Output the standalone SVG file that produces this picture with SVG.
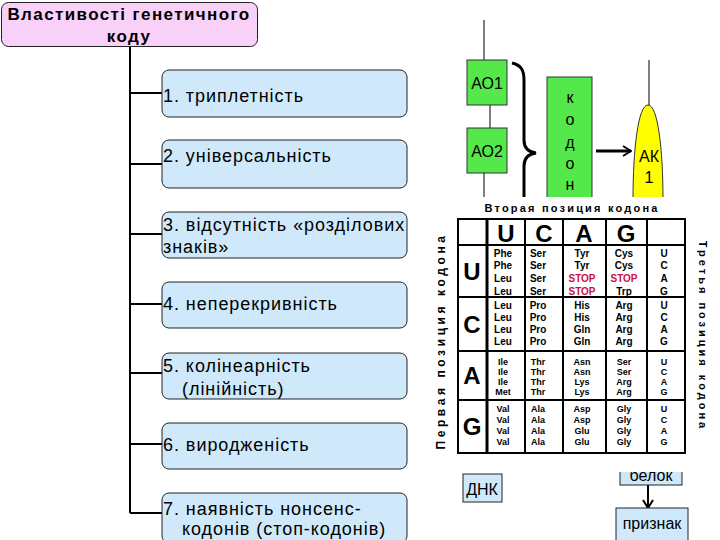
<svg xmlns="http://www.w3.org/2000/svg" width="720" height="540" viewBox="0 0 720 540">
<style>
.box{fill:#CFE9FB;stroke:#222;stroke-width:1}
.t{font-family:"Liberation Sans",Arial,sans-serif;font-size:18px;letter-spacing:0.95px;fill:#000}
.tb{font-family:"Liberation Sans",Arial,sans-serif;font-size:17px;font-weight:bold;letter-spacing:1.4px;fill:#000}
.ln{stroke:#000;stroke-width:2;fill:none}
.thin{stroke:#000;stroke-width:1;fill:none}
.g{fill:#55E84A;stroke:#333;stroke-width:1}
.m{font-family:"Liberation Sans",Arial,sans-serif;font-size:16px;fill:#000;text-anchor:middle}
.big{font-family:"Liberation Sans",Arial,sans-serif;font-size:24px;font-weight:bold;fill:#000;text-anchor:middle}
.c{font-family:"Liberation Sans",Arial,sans-serif;font-size:10px;font-weight:bold;fill:#000;text-anchor:middle}
.s{font-size:9px}
.r{fill:#CC1144}
.ax{font-family:"Liberation Sans",Arial,sans-serif;font-size:11px;font-weight:bold;fill:#000;text-anchor:middle;letter-spacing:2.2px}
.ax2{font-family:"Liberation Sans",Arial,sans-serif;font-size:12px;font-weight:bold;fill:#000;text-anchor:middle;letter-spacing:3.6px}
.ax3{font-family:"Liberation Sans",Arial,sans-serif;font-size:11px;font-weight:bold;fill:#000;text-anchor:middle;letter-spacing:3px}
.tl{stroke:#000;stroke-width:2;fill:none}
</style>
<defs>
<marker id="chev" markerWidth="10" markerHeight="12" refX="9" refY="6" orient="auto" markerUnits="userSpaceOnUse">
<path d="M1,1 L9,6 L1,11" fill="none" stroke="#000" stroke-width="2"/>
</marker>
</defs>

<g id="connectors">
<line class="ln" x1="130" y1="47" x2="130" y2="513"/>
<line class="ln" x1="130" y1="93" x2="162" y2="93"/>
<line class="ln" x1="130" y1="164" x2="162" y2="164"/>
<line class="ln" x1="130" y1="234" x2="162" y2="234"/>
<line class="ln" x1="130" y1="304" x2="162" y2="304"/>
<line class="ln" x1="130" y1="373" x2="162" y2="373"/>
<line class="ln" x1="130" y1="444" x2="162" y2="444"/>
<line class="ln" x1="130" y1="513" x2="162" y2="513"/>
<line class="thin" x1="484" y1="20" x2="484" y2="60"/>
<line class="thin" x1="490" y1="105" x2="490" y2="128"/>
<line class="thin" x1="484" y1="173" x2="484" y2="197"/>
<line class="thin" x1="649" y1="60" x2="649" y2="105"/>
<path d="M512,63 C521,65 524,70 524,80 L524,140 C524,147 528,152 536,153 C528,154 524,159 524,166 L524,197" fill="none" stroke="#000" stroke-width="3"/>
<line x1="596" y1="151" x2="631" y2="151" stroke="#000" stroke-width="3" marker-end="url(#chev)"/>
<line x1="648" y1="485" x2="648" y2="508" stroke="#000" stroke-width="2" marker-end="url(#chev)"/>
</g>

<g id="title">
<rect x="1.5" y="2.5" width="256" height="44" rx="7" fill="#F8D0F8" stroke="#222" stroke-width="1"/>
<text class="tb" x="129" y="20" text-anchor="middle">Властивості генетичного</text>
<text class="tb" x="129" y="42" text-anchor="middle">коду</text>
</g>

<g id="p1"><rect class="box" x="162" y="70" width="245" height="47" rx="7"/><text class="t" x="163" y="102">1. триплетність</text></g>
<g id="p2"><rect class="box" x="162" y="140" width="245" height="48" rx="7"/><text class="t" x="163" y="162">2. універсальність</text></g>
<g id="p3"><rect class="box" x="162" y="212" width="245" height="46" rx="7"/><text class="t" x="163" y="231">3. відсутність «розділових</text><text class="t" x="163" y="253">знаків»</text></g>
<g id="p4"><rect class="box" x="162" y="282" width="245" height="46" rx="7"/><text class="t" x="163" y="310">4. неперекривність</text></g>
<g id="p5"><rect class="box" x="162" y="353" width="245" height="46" rx="7"/><text class="t" x="163" y="372">5. колінеарність</text><text class="t" x="182" y="395">(лінійність)</text></g>
<g id="p6"><rect class="box" x="162" y="423" width="245" height="46" rx="7"/><text class="t" x="163" y="451">6. виродженість</text></g>
<g id="p7"><rect class="box" x="162" y="493" width="245" height="50" rx="7"/><text class="t" x="163" y="515">7. наявність нонсенс-</text><text class="t" x="182" y="535">кодонів (стоп-кодонів)</text></g>

<g id="ao1"><rect class="g" x="467" y="60" width="40" height="45"/><text class="m" x="487" y="89">АО1</text></g>
<g id="ao2"><rect class="g" x="467" y="128" width="40" height="45"/><text class="m" x="487" y="157">АО2</text></g>
<g id="codon"><rect class="g" x="547" y="77" width="45" height="125"/>
<text class="m" x="570" y="103">к</text><text class="m" x="570" y="125">о</text><text class="m" x="570" y="148">д</text><text class="m" x="570" y="169">о</text><text class="m" x="570" y="190">н</text></g>
<g id="ak1"><path d="M633,200 C633,150 638,105 648,105 C658,105 663,150 663,200 Z" fill="#FFFF00" stroke="#333" stroke-width="1"/>
<text class="m" x="649" y="162">АК</text><text class="m" x="649" y="183">1</text></g>

<g id="belok"><rect class="box" x="620" y="455" width="62" height="30"/><text class="m" x="651" y="481">белок</text></g>

<rect x="430" y="197" width="290" height="275" fill="#fff"/>

<g id="table">
<text class="ax" x="572" y="212">Вторая позиция кодона</text>
<text class="ax2" transform="translate(445,341) rotate(-90)">Первая позиция кодона</text>
<text class="ax3" transform="translate(699,336) rotate(90)">Третья позиция кодона</text>
<rect class="tl" x="458" y="219" width="227" height="234"/>
<line class="tl" x1="458" y1="245" x2="685" y2="245"/>
<line class="tl" x1="458" y1="297" x2="685" y2="297"/>
<line class="tl" x1="458" y1="351" x2="685" y2="351"/>
<line class="tl" x1="458" y1="400" x2="685" y2="400"/>
<line x1="487" y1="219" x2="487" y2="453" stroke="#000" stroke-width="3"/>
<line class="tl" x1="525" y1="219" x2="525" y2="453"/>
<line class="tl" x1="563" y1="219" x2="563" y2="453"/>
<line class="tl" x1="606" y1="219" x2="606" y2="453"/>
<line class="tl" x1="647" y1="219" x2="647" y2="453"/>
<text class="big" x="506" y="242">U</text><text class="big" x="544" y="242">C</text><text class="big" x="584" y="242">A</text><text class="big" x="626" y="242">G</text>
<text class="big" x="472" y="280">U</text><text class="big" x="472" y="333">C</text><text class="big" x="472" y="384">A</text><text class="big" x="472" y="435">G</text>

<text class="c" x="503" y="257">Phe</text><text class="c" x="503" y="269">Phe</text><text class="c" x="503" y="282">Leu</text><text class="c" x="503" y="295">Leu</text>
<text class="c" x="538" y="257">Ser</text><text class="c" x="538" y="269">Ser</text><text class="c" x="538" y="282">Ser</text><text class="c" x="538" y="295">Ser</text>
<text class="c" x="582" y="257">Tyr</text><text class="c" x="582" y="269">Tyr</text><text class="c r" x="582" y="282">STOP</text><text class="c r" x="582" y="295">STOP</text>
<text class="c" x="624" y="257">Cys</text><text class="c" x="624" y="269">Cys</text><text class="c r" x="624" y="282">STOP</text><text class="c" x="624" y="295">Trp</text>
<text class="c" x="664" y="257">U</text><text class="c" x="664" y="269">C</text><text class="c" x="664" y="282">A</text><text class="c" x="664" y="295">G</text>

<text class="c" x="503" y="309">Leu</text><text class="c" x="503" y="321">Leu</text><text class="c" x="503" y="333">Leu</text><text class="c" x="503" y="345">Leu</text>
<text class="c" x="538" y="309">Pro</text><text class="c" x="538" y="321">Pro</text><text class="c" x="538" y="333">Pro</text><text class="c" x="538" y="345">Pro</text>
<text class="c" x="582" y="309">His</text><text class="c" x="582" y="321">His</text><text class="c" x="582" y="333">Gln</text><text class="c" x="582" y="345">Gln</text>
<text class="c" x="624" y="309">Arg</text><text class="c" x="624" y="321">Arg</text><text class="c" x="624" y="333">Arg</text><text class="c" x="624" y="345">Arg</text>
<text class="c" x="664" y="309">U</text><text class="c" x="664" y="321">C</text><text class="c" x="664" y="333">A</text><text class="c" x="664" y="345">G</text>

<text class="c s" x="503" y="365">Ile</text><text class="c s" x="503" y="375">Ile</text><text class="c s" x="503" y="385">Ile</text><text class="c s" x="503" y="395">Met</text>
<text class="c s" x="538" y="365">Thr</text><text class="c s" x="538" y="375">Thr</text><text class="c s" x="538" y="385">Thr</text><text class="c s" x="538" y="395">Thr</text>
<text class="c s" x="582" y="365">Asn</text><text class="c s" x="582" y="375">Asn</text><text class="c s" x="582" y="385">Lys</text><text class="c s" x="582" y="395">Lys</text>
<text class="c s" x="624" y="365">Ser</text><text class="c s" x="624" y="375">Ser</text><text class="c s" x="624" y="385">Arg</text><text class="c s" x="624" y="395">Arg</text>
<text class="c s" x="664" y="365">U</text><text class="c s" x="664" y="375">C</text><text class="c s" x="664" y="385">A</text><text class="c s" x="664" y="395">G</text>

<text class="c s" x="503" y="412">Val</text><text class="c s" x="503" y="423">Val</text><text class="c s" x="503" y="434">Val</text><text class="c s" x="503" y="445">Val</text>
<text class="c s" x="538" y="412">Ala</text><text class="c s" x="538" y="423">Ala</text><text class="c s" x="538" y="434">Ala</text><text class="c s" x="538" y="445">Ala</text>
<text class="c s" x="582" y="412">Asp</text><text class="c s" x="582" y="423">Asp</text><text class="c s" x="582" y="434">Glu</text><text class="c s" x="582" y="445">Glu</text>
<text class="c s" x="624" y="412">Gly</text><text class="c s" x="624" y="423">Gly</text><text class="c s" x="624" y="434">Gly</text><text class="c s" x="624" y="445">Gly</text>
<text class="c s" x="664" y="412">U</text><text class="c s" x="664" y="423">C</text><text class="c s" x="664" y="434">A</text><text class="c s" x="664" y="445">G</text>
</g>

<g id="dnk"><rect class="box" x="463" y="474" width="39" height="28"/><text class="m" x="482" y="495">ДНК</text></g>
<g id="oznaka"><rect class="box" x="616" y="508" width="72" height="36"/><text class="m" x="652" y="529">признак</text></g>
</svg>
